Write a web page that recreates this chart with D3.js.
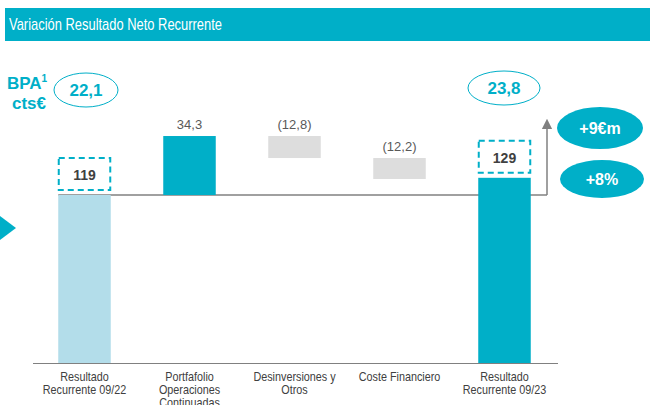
<!DOCTYPE html>
<html>
<head>
<meta charset="utf-8">
<script src="https://cdn.jsdelivr.net/npm/d3@7"></script>
<style>
  body { margin: 0; background: #fff; }
  svg { display: block; font-family: "Liberation Sans", Arial, sans-serif; }
</style>
</head>
<body>
<div class="canvas"></div>
<script>
const categories = [
  ["Resultado", "Recurrente 09/22"],
  ["Portfafolio", "Operaciones", "Continuadas"],
  ["Desinversiones y", "Otros"],
  ["Coste Financiero"],
  ["Resultado", "Recurrente 09/23"]
];
const kinds = ["total", "delta", "delta", "delta", "total"];
const values = [119, 34.3, -12.8, -12.2, 129];
const valueLabels = ["119", "34,3", "(12,8)", "(12,2)", "129"];
const epsLabels = ["22,1", "23,8"];
const changeLabels = ["+9€m", "+8%"];

const teal = "#00AFC8";
const lightBlue = "#B3DDEA";
const grey = "#DDDDDD";
const textGrey = "#595959";

const width = 650, height = 405;
const svg = d3.select(".canvas").append("svg")
  .attr("width", width).attr("height", height);

// title bar
svg.append("rect").attr("x", 5).attr("y", 8).attr("width", 645).attr("height", 33).attr("fill", teal);
svg.append("text").attr("x", 9).attr("y", 30)
  .attr("fill", "#fff").attr("font-size", 17)
  .attr("textLength", 213).attr("lengthAdjust", "spacingAndGlyphs")
  .text("Variación Resultado Neto Recurrente");

// scales (broken axis: total bars run to the bottom)
const x = d3.scaleBand().domain(d3.range(categories.length))
  .range([32, 557]).paddingInner(0.5).paddingOuter(0.25);
const y = d3.scaleLinear().domain([21.3, 119]).range([363, 195]);
const bottom = 363;

// compute waterfall steps
let running = 0;
const steps = values.map((v, i) => {
  if (kinds[i] === "total") { running = v; return { i, y0: v, y1: null, v }; }
  const start = running; running += v;
  return { i, y0: start, y1: running, v };
});

// reference line from the starting value
svg.append("line")
  .attr("x1", x(0)).attr("x2", 547)
  .attr("y1", y(values[0])).attr("y2", y(values[0]))
  .attr("stroke", "#808080").attr("stroke-width", 1.5);

// bars
steps.forEach(s => {
  if (kinds[s.i] === "total") {
    svg.append("rect")
      .attr("x", x(s.i)).attr("width", x.bandwidth())
      .attr("y", y(s.v)).attr("height", bottom - y(s.v))
      .attr("fill", s.i === 0 ? lightBlue : teal);
  } else {
    const top = y(Math.max(s.y0, s.y1)), bot = y(Math.min(s.y0, s.y1));
    svg.append("rect")
      .attr("x", x(s.i)).attr("width", x.bandwidth())
      .attr("y", top).attr("height", bot - top)
      .attr("fill", s.v > 0 ? teal : grey);
    svg.append("text")
      .attr("x", x(s.i) + x.bandwidth() / 2).attr("y", top - 7)
      .attr("text-anchor", "middle").attr("font-size", 13)
      .attr("fill", textGrey).text(valueLabels[s.i]);
  }
});

// dashed boxes with totals
[0, 4].forEach(i => {
  const top = y(values[i]) - 37;
  svg.append("rect")
    .attr("x", x(i) + 0.5).attr("y", top)
    .attr("width", x.bandwidth() - 1).attr("height", 32)
    .attr("fill", "none").attr("stroke", teal).attr("stroke-width", 2)
    .attr("stroke-dasharray", "6,4");
  svg.append("text")
    .attr("x", x(i) + x.bandwidth() / 2).attr("y", top + 22)
    .attr("text-anchor", "middle").attr("font-size", 14).attr("font-weight", "bold")
    .attr("fill", "#404040").text(valueLabels[i]);
});

// baseline axis
svg.append("line").attr("x1", 33).attr("x2", 558)
  .attr("y1", bottom + 0.5).attr("y2", bottom + 0.5)
  .attr("stroke", "#808080").attr("stroke-width", 1.2);

// category labels (narrow look)
categories.forEach((lines, i) => {
  const g = svg.append("g")
    .attr("transform", `translate(${x(i) + x.bandwidth() / 2},381) scale(0.9,1)`);
  const t = g.append("text")
    .attr("text-anchor", "middle").attr("font-size", 12).attr("fill", "#404040");
  lines.forEach((l, k) => {
    t.append("tspan").attr("x", 0).attr("y", k * 13).text(l);
  });
});

// EPS ellipses
const epsPos = [[86, 90, 32, 17], [504, 88, 36, 17]];
epsPos.forEach((p, k) => {
  svg.append("ellipse").attr("cx", p[0]).attr("cy", p[1]).attr("rx", p[2]).attr("ry", p[3])
    .attr("fill", "#fff").attr("stroke", teal).attr("stroke-width", 1);
  svg.append("text").attr("x", p[0]).attr("y", p[1] + 6)
    .attr("text-anchor", "middle").attr("font-size", 17).attr("font-weight", "bold")
    .attr("fill", teal).text(epsLabels[k]);
});

// BPA label
const bpa = svg.append("text").attr("text-anchor", "middle").attr("fill", teal)
  .attr("font-size", 17).attr("font-weight", "bold");
bpa.append("tspan").attr("x", 27).attr("y", 89).text("BPA");
bpa.append("tspan").attr("dy", -7).attr("font-size", 10).text("1");
bpa.append("tspan").attr("x", 29).attr("y", 109).text("cts€");

// arrow
svg.append("defs").append("marker")
  .attr("id", "arr").attr("viewBox", "0 0 10 10").attr("refX", 5).attr("refY", 5)
  .attr("markerWidth", 7).attr("markerHeight", 7).attr("orient", "auto")
  .append("path").attr("d", "M0,0 L10,5 L0,10 z").attr("fill", "#808080");
svg.append("line").attr("x1", 547).attr("x2", 547)
  .attr("y1", y(values[0])).attr("y2", 124)
  .attr("stroke", "#808080").attr("stroke-width", 1.5).attr("marker-end", "url(#arr)");

// change ellipses
const chPos = [[600, 128, 43, 21], [602, 179, 42, 19]];
chPos.forEach((p, k) => {
  svg.append("ellipse").attr("cx", p[0]).attr("cy", p[1]).attr("rx", p[2]).attr("ry", p[3])
    .attr("fill", teal);
  svg.append("text").attr("x", p[0]).attr("y", p[1] + 6)
    .attr("text-anchor", "middle").attr("font-size", 16).attr("font-weight", "bold")
    .attr("fill", "#fff").text(changeLabels[k]);
});

// left triangle marker
svg.append("path").attr("d", "M0,216 L16,228 L0,240 Z").attr("fill", teal);
</script>
</body>
</html>
